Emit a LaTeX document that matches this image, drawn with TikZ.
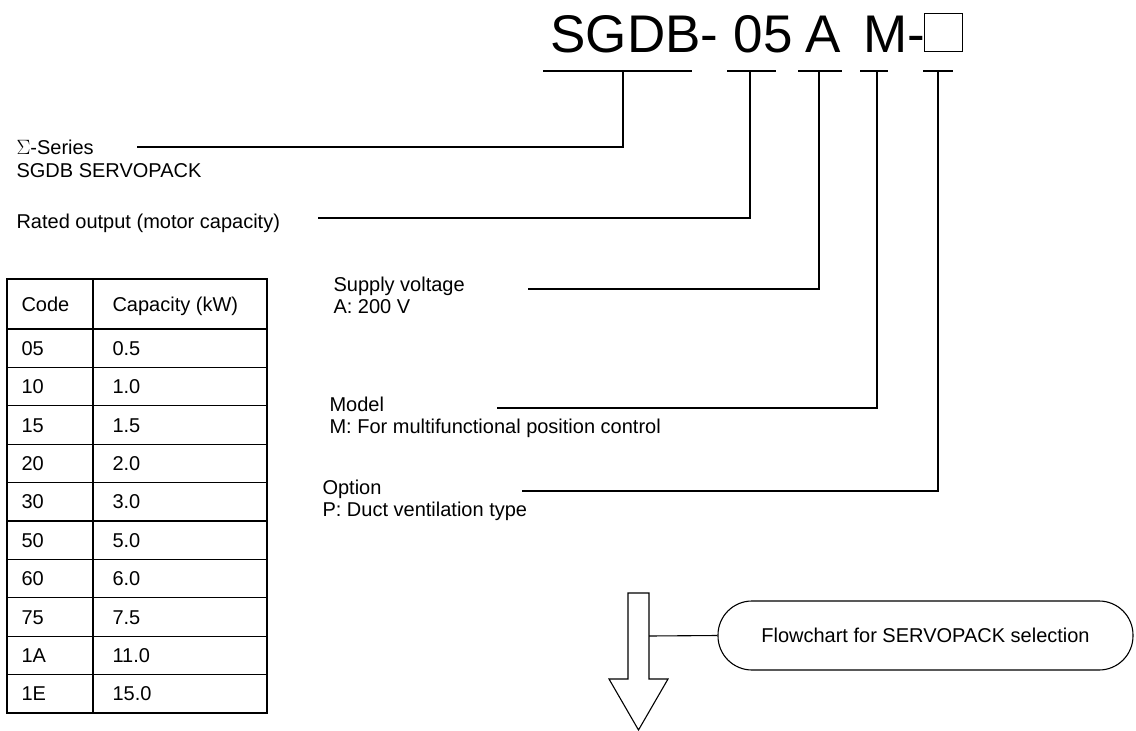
\documentclass[tikz,border=0pt]{standalone}
\usepackage{fontspec}
\setmainfont{Liberation Sans}
\begin{document}
\begin{tikzpicture}[x=1pt,y=-1pt,line width=1.1pt,
  lbl/.style={anchor=base west,inner sep=0pt,font=\fontsize{20}{22}\selectfont},
  ttl/.style={anchor=base west,inner sep=0pt,font=\fontsize{53}{60}\selectfont},
  cell/.style={anchor=base west,inner sep=0pt,font=\fontsize{20}{22}\selectfont}]
\useasboundingbox (0,0) rectangle (1136,731);

% title
\node[ttl] (t1) at (550,52) {SGDB-};
\node[ttl] (t2) at (733,52) {05};
\node[ttl] (t3) at (805,52) {A};
\node[ttl] (t4) at (863,52) {M-};
\node[draw,line width=1.2pt,minimum width=38pt,minimum height=38pt,inner sep=0pt,anchor=south west] (t5) at (924,52) {};

% underlines
\draw (543,71) -- (692,71);
\draw (727,71) -- (776,71);
\draw (798,71) -- (842,71);
\draw (860,71) -- (888,71);
\draw (923,71) -- (953,71);
\coordinate (u1) at (623,71);
\coordinate (u2) at (750,71);
\coordinate (u3) at (819,71);
\coordinate (u4) at (877,71);
\coordinate (u5) at (938,71);

% labels
\node[lbl] (la) at (16,154) {$\Sigma$-Series};
\node[lbl] (lb) at (16,177) {SGDB SERVOPACK};
\coordinate (ca) at (137,147);
\node[lbl] (lr) at (16,228) {Rated output (motor capacity)};
\coordinate (cr) at (318,218);
\node[lbl] (ls) at (333,291) {Supply voltage};
\node[lbl] (ls2) at (333,313) {A: 200 V};
\coordinate (cs) at (528,289);
\node[lbl] (lm) at (329,411) {Model};
\node[lbl] (lm2) at (329,433) {M: For multifunctional position control};
\coordinate (cm) at (497,408);
\node[lbl] (lo) at (322,494) {Option};
\node[lbl] (lo2) at (322,516) {P: Duct ventilation type};
\coordinate (co) at (522,491);

\draw (u1) |- (ca);
\draw (u2) |- (cr);
\draw (u3) |- (cs);
\draw (u4) |- (cm);
\draw (u5) |- (co);

% table
\draw (7,279) rectangle (267,713);
\draw (93,279) -- (93,713);
\draw (7,329) -- (267,329);
\foreach \k in {1,...,9} \draw (7,{329+38.4*\k}) -- (267,{329+38.4*\k});
\node[cell] (h1) at (21,311) {Code};
\node[cell] (h2) at (112,311) {Capacity (kW)};
\foreach \c/\v [count=\i from 0] in {05/0.5,10/1.0,15/1.5,20/2.0,30/3.0,50/5.0,60/6.0,75/7.5,1A/11.0,1E/15.0}{
  \node[cell] (c\i) at (21,{329+38.4*\i+19.2+7}) {\c};
  \node[cell] (v\i) at (112,{329+38.4*\i+19.2+7}) {\v};
}

% flowchart arrow and box
\draw[line join=miter] (628,593) -- (649,593) -- (649,679) -- (668,679) -- (638.5,730) -- (609,679) -- (628,679) -- cycle;
\coordinate (sr) at (649,636);
\node[draw,rounded corners=34pt,minimum width=415pt,minimum height=69pt,inner sep=0pt,font=\fontsize{20}{22}\selectfont] (fc) at (925.5,635.5) {Flowchart for SERVOPACK selection};
\draw (sr) -- (fc.west);
\end{tikzpicture}
\end{document}
